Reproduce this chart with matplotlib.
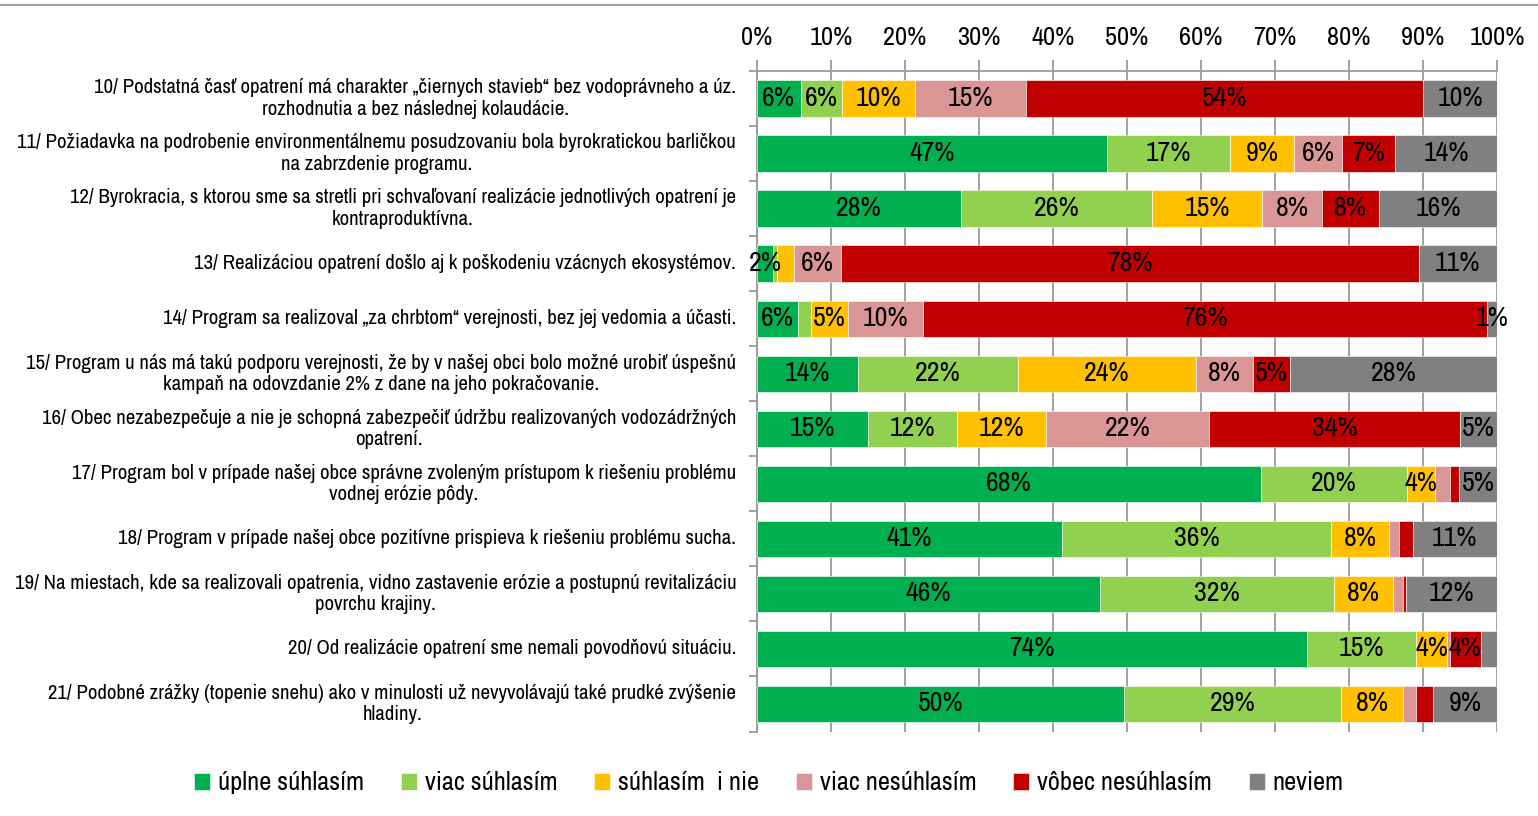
import matplotlib
matplotlib.use("Agg")
import matplotlib.pyplot as plt
import numpy as np
from matplotlib.lines import Line2D

plt.rcParams['font.family'] = ['Liberation Sans Narrow', 'Archivo Narrow', 'DejaVu Sans']

questions = [
    "10/ Podstatná časť opatrení má charakter „čiernych stavieb“ bez vodoprávneho a úz.\nrozhodnutia a bez následnej kolaudácie.",
    "11/ Požiadavka na podrobenie environmentálnemu posudzovaniu bola byrokratickou barličkou\nna zabrzdenie programu.",
    "12/ Byrokracia, s ktorou sme sa stretli pri schvaľovaní realizácie jednotlivých opatrení je\nkontraproduktívna.",
    "13/ Realizáciou opatrení došlo aj k poškodeniu vzácnych ekosystémov.",
    "14/ Program sa realizoval „za chrbtom“ verejnosti, bez jej vedomia a účasti.",
    "15/ Program u nás má takú podporu verejnosti, že by v našej obci bolo možné urobiť úspešnú\nkampaň na odovzdanie 2% z dane na jeho pokračovanie.",
    "16/ Obec nezabezpečuje a nie je schopná zabezpečiť údržbu realizovaných vodozádržných\nopatrení.",
    "17/ Program bol v prípade našej obce správne zvoleným prístupom k riešeniu problému\nvodnej erózie pôdy.",
    "18/ Program v prípade našej obce pozitívne prispieva k riešeniu problému sucha.",
    "19/ Na miestach, kde sa realizovali opatrenia, vidno zastavenie erózie a postupnú revitalizáciu\npovrchu krajiny.",
    "20/ Od realizácie opatrení sme nemali povodňovú situáciu.",
    "21/ Podobné zrážky (topenie snehu) ako v minulosti už nevyvolávajú také prudké zvýšenie\nhladiny.",
]

series_names = ["úplne súhlasím", "viac súhlasím", "súhlasím  i nie",
                "viac nesúhlasím", "vôbec nesúhlasím", "neviem"]

uplne = [5.9, 47.3, 27.6, 2.2, 5.6, 13.6, 15.0, 68.1, 41.2, 46.4, 74.3, 49.6]
viac_suhl = [5.6, 16.6, 25.8, 0.5, 1.7, 21.7, 12.0, 19.8, 36.4, 31.6, 14.7, 29.3]
suhl_i_nie = [9.8, 8.7, 14.8, 2.3, 5.0, 24.0, 12.1, 3.7, 7.8, 7.9, 4.3, 8.4]
viac_nesuhl = [15.0, 6.4, 8.2, 6.4, 10.1, 7.7, 22.0, 2.0, 1.4, 1.4, 0.3, 1.8]
vobec_nesuhl = [53.7, 7.2, 7.7, 78.0, 76.2, 5.0, 33.9, 1.3, 1.8, 0.4, 4.2, 2.3]
neviem = [10.0, 13.8, 15.9, 10.6, 1.4, 28.0, 5.0, 5.1, 11.4, 12.3, 2.2, 8.6]

# small labels that are still shown in the original (row, series)
forced_labels = [(3, 0), (4, 5)]

colors = ["#00B050", "#92D050", "#FFC000", "#D99694", "#C00000", "#808080"]

data = np.array([uplne, viac_suhl, suhl_i_nie, viac_nesuhl, vobec_nesuhl, neviem])

fig = plt.figure(figsize=(15.38, 8.16), dpi=100)
ax = fig.add_axes([757 / 1538, 1 - 731.5 / 816, 740 / 1538, 660.5 / 816])

y = np.arange(len(questions))
left = np.zeros(len(questions))
for s in range(len(series_names)):
    vals = data[s]
    ax.barh(y, vals, left=left, height=0.66, color=colors[s],
            label=series_names[s], zorder=3, edgecolor="white", linewidth=0.4)
    for i, v in enumerate(vals):
        if v >= 3 or (i, s) in forced_labels:
            ax.text(left[i] + v / 2, y[i], "%d%%" % round(v), ha="center",
                    va="center", fontsize=20, color="black", zorder=4)
    left += vals

ax.set_xlim(0, 100)
ax.set_ylim(len(questions) - 0.5, -0.5)
ax.xaxis.tick_top()
ax.set_xticks(np.arange(0, 101, 10))
ax.set_xticklabels(["%d%%" % t for t in range(0, 101, 10)], fontsize=19)
ax.tick_params(axis="x", direction="out", length=8, width=1.3, color="#9A9A9A", pad=8)
ax.grid(axis="x", color="#9A9A9A", linewidth=1.3, zorder=0)

ax.set_yticks(y)
ax.set_yticklabels(questions, fontsize=15, multialignment="center", linespacing=1.15,
                   va="center")
ax.tick_params(axis="y", length=0, pad=15)
ax.set_yticks(np.arange(-0.5, len(questions)), minor=True)
ax.tick_params(axis="y", which="minor", direction="out", length=6, width=1.3, color="#9A9A9A")

for side in ["bottom", "right"]:
    ax.spines[side].set_visible(False)
for side in ["top", "left"]:
    ax.spines[side].set_color("#9A9A9A")
    ax.spines[side].set_linewidth(1.3)

handles, labels = ax.get_legend_handles_labels()
fig.legend(handles, labels, loc="center", bbox_to_anchor=(0.5, 1 - 783 / 816),
           ncol=6, frameon=False, fontsize=19, handlelength=0.6, handleheight=0.6,
           handletextpad=0.3, columnspacing=1.4)

fig.add_artist(Line2D([0, 1], [1 - 5 / 816, 1 - 5 / 816], color="#A0A0A0",
                      linewidth=1.5, transform=fig.transFigure))

fig.savefig("out.png", dpi=100)
